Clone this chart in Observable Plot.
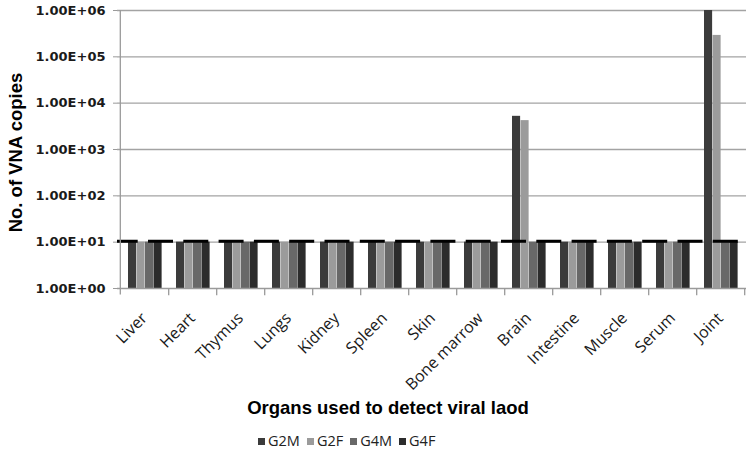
<!DOCTYPE html>
<html><head><meta charset="utf-8">
<script src="https://cdn.jsdelivr.net/npm/d3@7"></script>
<script src="https://cdn.jsdelivr.net/npm/@observablehq/plot@0.6"></script>
<style>
body{margin:0;background:#fff;}
#chart{width:750px;height:452px;position:relative;overflow:hidden;background:#fff}
#chart svg{display:block}
#legend{padding-left:258px;padding-top:12px}
#legend div, #legend span{font-family:"Open Sans",sans-serif !important;font-size:14.5px !important;color:#222 !important;line-height:18px}
#legend > div{margin:0 !important;min-height:0 !important}
#legend span{margin-right:7px !important}
#legend span > svg{margin-right:3px !important}
</style></head><body><div id="chart"></div><script>
const organs = ["Liver","Heart","Thymus","Lungs","Kidney","Spleen","Skin","Bone marrow","Brain","Intestine","Muscle","Serum","Joint"];
const series = ["G2M","G2F","G4M","G4F"];
const G2M = [10,10,10,10,10,10,10,10,5200,10,10,10,1000000];
const G2F = [10,10,10,10,10,10,10,10,4200,10,10,10,290000];
const G4M = [10,10,10,10,10,10,10,10,10,10,10,10,10];
const G4F = [10,10,10,10,10,10,10,10,10,10,10,10,10];
const colors = ["#3b3b3b","#9b9b9b","#686868","#2c2c2c"];
const yTicks = [1,10,100,1000,10000,100000,1000000];
const yTickLabels = ["1.00E+00","1.00E+01","1.00E+02","1.00E+03","1.00E+04","1.00E+05","1.00E+06"];
const detectionLimit = [10];
const xTitle = "Organs used to detect viral laod";
const yTitle = "No. of VNA copies";

const W = 750, H = 420, mL = 117, mR = 4, mT = 10, mB = 132;
const bw = (W - mL - mR) / organs.length;
const padL = 8, barW = 8.5;
const seriesValues = [G2M, G2F, G4M, G4F];
const rows = series.flatMap((s, g) => organs.map((o, i) => ({organ: o, series: s, value: seriesValues[g][i]})));

const chart = Plot.plot({
  width: W, height: H,
  marginLeft: mL, marginRight: mR, marginTop: mT, marginBottom: mB,
  style: {fontFamily: "'Open Sans', sans-serif", background: "#fff"},
  x: {type: "band", domain: organs, padding: 0},
  y: {type: "log", domain: [1, 1000000]},
  marks: [
    Plot.ruleY(yTicks.slice(1), {stroke: "#a3a3a3", strokeWidth: 1.3}),
    ...series.map((s, g) => Plot.barY(rows.filter(d => d.series === s), {
      x: "organ", y1: 1, y2: "value", fill: colors[g],
      insetLeft: padL + g * barW, insetRight: bw - padL - (g + 1) * barW
    })),
    Plot.ruleY(detectionLimit, {stroke: "#000", strokeWidth: 3, strokeDasharray: "25,10.3", strokeDashoffset: 4.3, dy: -1}),
    Plot.ruleY([1], {stroke: "#9a9a9a", strokeWidth: 1.3}),
    Plot.ruleX([organs[0]], {y1: 0.72, y2: 1000000, dx: -bw / 2, stroke: "#9a9a9a", strokeWidth: 1.3}),
    Plot.ruleX(organs, {y1: 1, y2: 0.7, dx: bw / 2, stroke: "#9a9a9a", strokeWidth: 1.3}),
    Plot.axisY(yTicks, {tickFormat: d => yTickLabels[yTicks.indexOf(d)], tickSize: 4, tickPadding: 8,
      fontSize: 13, fontWeight: "bold", fontFamily: "DejaVu Sans", fill: "#1a1a1a", stroke: "#9a9a9a", label: null}),
    Plot.axisX({tickRotate: -45, tickSize: 0, tickPadding: 27, fontSize: 16, fontFamily: "'Open Sans'", fill: "#1a1a1a", label: null}),
    Plot.text([xTitle], {frameAnchor: "bottom", lineAnchor: "middle", textAnchor: "middle", dy: 119.5, dx: -44, fontSize: 18.5, fontWeight: "bold",
      fontFamily: "'Liberation Sans', Arial, sans-serif", fill: "#000"}),
    Plot.text([yTitle], {frameAnchor: "left", lineAnchor: "middle", textAnchor: "middle", rotate: -90, dx: -101, dy: 3, fontSize: 18.5, fontWeight: "bold",
      fontFamily: "'Liberation Sans', Arial, sans-serif", fill: "#000"})
  ]
});
const root = document.getElementById("chart");
root.appendChild(chart);
const legend = Plot.legend({color: {type: "ordinal", domain: series, range: colors}, legend: "swatches", swatchSize: 7, className: "lg"});
const ld = document.createElement("div");
ld.id = "legend";
ld.appendChild(legend);
root.appendChild(ld);
</script></body></html>
